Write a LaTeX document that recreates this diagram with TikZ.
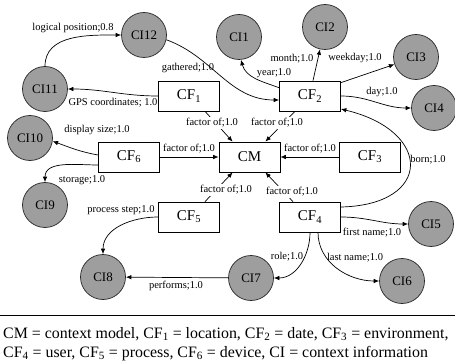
\documentclass[tikz,border=0pt]{standalone}
\usepackage{fontspec}
\setmainfont{Liberation Serif}
\usetikzlibrary{arrows.meta,calc}
\begin{document}
\begin{tikzpicture}[x=1pt,y=1pt,
  factor/.style={draw, line width=0.7pt, minimum width=61pt, minimum height=30pt,
    inner sep=0pt, font=\fontsize{15}{15}\selectfont},
  info/.style={circle, draw=black!85, fill=black!38, line width=0.7pt,
    minimum size=45pt, inner sep=0pt, font=\fontsize{13}{13}\selectfont},
  lab/.style={font=\fontsize{10.5}{10.5}\selectfont, inner sep=1pt},
  coverlab/.style={lab, fill=white},
  link/.style={line width=0.7pt, -{Latex[length=5.5pt,width=4.5pt]}},
  caption/.style={anchor=base west, inner sep=0pt, font=\fontsize{15.9}{18}\selectfont},
]
\useasboundingbox (0,0) rectangle (455,362);

% context model and context factors
\node[factor] (CM)  at (249.5,205) {CM};
\node[factor] (CF1) at (189,266) {CF\textsubscript{1}};
\node[factor] (CF2) at (310,266) {CF\textsubscript{2}};
\node[factor] (CF3) at (370,205) {CF\textsubscript{3}};
\node[factor] (CF4) at (310,145) {CF\textsubscript{4}};
\node[factor] (CF5) at (189,145) {CF\textsubscript{5}};
\node[factor] (CF6) at (129,205) {CF\textsubscript{6}};

% context information
\node[info] (CI1)  at (239,325) {CI1};
\node[info] (CI2)  at (325,335) {CI2};
\node[info] (CI3)  at (416,305) {CI3};
\node[info] (CI4)  at (434,254) {CI4};
\node[info] (CI5)  at (431,138) {CI5};
\node[info] (CI6)  at (402,81)  {CI6};
\node[info] (CI7)  at (251,84)  {CI7};
\node[info] (CI8)  at (103,85)  {CI8};
\node[info] (CI9)  at (45,157)  {CI9};
\node[info] (CI10) at (30,224)  {CI10};
\node[info] (CI11) at (45,273)  {CI11};
\node[info] (CI12) at (144,327) {CI12};

% factor-of relations
\draw[link] ($(CF1.south)+(16,0)$) -- ($(CM.north west)+(14,0)$);
\draw[link] ($(CF2.south)+(-15,0)$) -- ($(CM.north east)+(-15,0)$);
\draw[link] ($(CF5.north)+(16,0)$) -- ($(CM.south west)+(14,0)$);
\draw[link] ($(CF4.north)+(-17,0)$) -- ($(CM.south east)+(-15,0)$);
\draw[link] (CF6) -- (CM);
\draw[link] (CF3) -- (CM);

% relations to context information
\draw[link] (CF1.west) to[out=180,in=0] (CI11.east);
\draw[link] (CI11.north) to[out=90,in=180] (CI12.west);
\draw[link] (CI12.-12) to[out=-20,in=180] ($(CF2.west)+(0,-4)$);
\draw[link] (CF2.165) to[out=160,in=-75] (CI1.-85);
\draw[link] ($(CF2.north)+(3,0)$) -- (CI2);
\draw[link] ($(CF2.north east)+(0,-2)$) -- (CI3);
\draw[link] (CF2.east) to[out=0,in=180] (CI4.west);
\draw[link] ($(CF4.east)+(0,10)$) .. controls +(92,2) and +(92,-22) .. ($(CF2.east)+(0,-13)$);
\draw[link] (CF4.east) to[out=0,in=180] (CI5.west);
\draw[link] ($(CF4.south)+(8,0)$) to[out=-90,in=180] (CI6.west);
\draw[link] (CF4.south) to[out=-90,in=0] (CI7.east);
\draw[link] (CI7) -- (CI8);
\draw[link] (CF5.west) to[out=180,in=90] (CI8.north);
\draw[link] ($(CF6.west)+(0,2)$) to[out=170,in=-20] (CI10.-8);
\draw[link] ($(CF6.west)+(0,-8)$) to[out=180,in=90] (CI9.north);

% edge labels
\node[coverlab] (l1) at (212,239) {factor of;1.0};
\node[coverlab] (l2) at (277,239) {factor of;1.0};
\node[lab] (l3) at (189,213) {factor of;1.0};
\node[lab] (l4) at (310,213) {factor of;1.0};
\node[coverlab] (l5) at (226,172) {factor of;1.0};
\node[coverlab] (l6) at (292,170) {factor of;1.0};
\node[lab] (l7)  at (113,259) {GPS coordinates; 1.0};
\node[lab] (l8)  at (73,334)  {logical position;0.8};
\node[lab] (l9)  at (188,294) {gathered;1.0};
\node[lab] (l10) at (274,289) {year;1.0};
\node[lab] (l11) at (292,303) {month;1.0};
\node[lab] (l12) at (355,304) {weekday;1.0};
\node[lab] (l13) at (382,270) {day;1.0};
\node[lab] (l14) at (428,202) {born;1.0};
\node[lab] (l15) at (372,129) {first name;1.0};
\node[lab] (l16) at (355,104) {last name;1.0};
\node[lab] (l17) at (287,105) {role;1.0};
\node[lab] (l18) at (176,76)  {performs;1.0};
\node[lab] (l19) at (121,152) {process step;1.0};
\node[lab] (l20) at (97,232)  {display size;1.0};
\node[lab] (l21) at (82,182)  {storage;1.0};

% legend
\draw[line width=0.8pt] (0,47) coordinate (r1) -- (455,47) coordinate (r2);
\node[caption] (cap1) at (3,24) {CM = context model, CF\textsubscript{1} = location, CF\textsubscript{2} = date, CF\textsubscript{3} = environment,};
\node[caption] (cap2) at (3,5) {CF\textsubscript{4} = user, CF\textsubscript{5} = process, CF\textsubscript{6} = device, CI = context information};
\end{tikzpicture}
\end{document}
